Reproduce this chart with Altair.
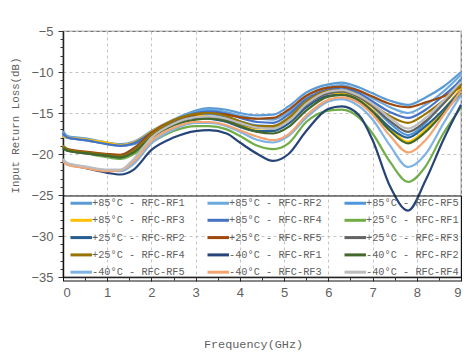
import altair as alt
import pandas as pd

freq = [0, 0.1, 0.5, 1, 1.3, 1.6, 2, 2.5, 3, 3.3, 3.7, 4, 4.4, 4.75, 5.1, 5.5, 6, 6.3, 6.7, 7, 7.4, 7.8, 8.2, 8.6, 9]

series_names = [
    "+85°C - RFC-RF1", "+85°C - RFC-RF2", "+85°C - RFC-RF5",
    "+85°C - RFC-RF3", "+85°C - RFC-RF4", "+25°C - RFC-RF1",
    "+25°C - RFC-RF2", "+25°C - RFC-RF5", "+25°C - RFC-RF3",
    "+25°C - RFC-RF4", "-40°C - RFC-RF1", "-40°C - RFC-RF2",
    "-40°C - RFC-RF5", "-40°C - RFC-RF3", "-40°C - RFC-RF4",
]

colors = [
    "#5B9BD5", "#6AA8DE", "#4F97DD",
    "#FFC000", "#4472C4", "#70AD47",
    "#255E91", "#9E480E", "#636363",
    "#997300", "#264478", "#43682B",
    "#7FB3E3", "#F4A471", "#BDBDBD",
]

p85_rf1 = [-17.2, -17.8, -18.1, -18.6, -18.8, -18.5, -17.2, -15.8, -14.7, -14.4, -14.6, -15.0, -15.3, -15.2, -14.2, -12.5, -11.5, -11.3, -11.9, -12.6, -13.5, -14.0, -13.1, -11.8, -10.0]
p85_rf2 = [-17.4, -17.9, -18.2, -18.7, -18.9, -18.6, -17.3, -15.9, -14.9, -14.6, -14.9, -15.3, -15.7, -15.8, -14.9, -13.0, -11.8, -11.6, -12.3, -13.2, -14.3, -15.0, -14.0, -12.4, -10.3]
p85_rf5 = [-17.6, -18.0, -18.3, -18.8, -19.0, -18.8, -17.6, -16.2, -15.3, -15.1, -15.5, -16.0, -16.5, -16.6, -15.6, -13.6, -12.3, -12.2, -13.0, -14.2, -16.3, -17.7, -16.2, -13.6, -10.8]
p85_rf3 = [-17.9, -18.0, -18.2, -18.6, -18.9, -18.6, -17.3, -15.9, -15.3, -15.4, -15.9, -16.4, -16.9, -16.8, -15.6, -13.7, -12.6, -12.6, -13.4, -14.6, -16.9, -18.5, -17.0, -14.6, -12.0]
p85_rf4 = [-17.5, -18.0, -18.3, -18.8, -19.0, -18.7, -17.4, -16.0, -15.0, -14.8, -15.1, -15.6, -16.1, -16.2, -15.2, -13.3, -12.1, -11.9, -12.6, -13.6, -14.9, -15.6, -14.6, -12.9, -11.0]
p25_rf1 = [-19.0, -19.4, -19.9, -20.4, -20.6, -20.0, -18.6, -17.2, -16.6, -16.6, -17.0, -17.8, -19.0, -19.4, -18.7, -16.1, -14.7, -14.6, -15.6, -17.5, -21.0, -23.4, -21.5, -17.5, -14.3]
p25_rf2 = [-19.2, -19.6, -19.9, -20.2, -20.4, -19.7, -17.8, -16.3, -15.6, -15.7, -16.1, -16.7, -17.2, -17.2, -16.3, -14.3, -12.9, -12.8, -13.5, -14.8, -16.8, -18.0, -16.6, -14.6, -12.3]
p25_rf5 = [-19.1, -19.4, -19.7, -20.0, -20.1, -19.3, -17.4, -15.9, -15.2, -15.0, -15.2, -15.5, -15.7, -15.6, -14.6, -12.9, -11.9, -11.8, -12.3, -13.0, -13.9, -14.3, -13.7, -13.0, -11.8]
p25_rf3 = [-19.2, -19.5, -19.9, -20.2, -20.3, -19.5, -17.6, -16.2, -15.5, -15.5, -15.8, -16.3, -16.8, -16.9, -16.0, -14.0, -12.6, -12.4, -13.1, -14.2, -16.0, -17.3, -16.0, -13.9, -11.5]
p25_rf4 = [-19.0, -19.5, -19.8, -20.1, -20.3, -19.6, -17.6, -15.9, -15.1, -15.0, -15.4, -16.0, -16.6, -16.6, -15.6, -13.6, -12.3, -12.2, -12.9, -14.0, -15.4, -16.2, -15.1, -13.5, -11.6]
m40_rf1 = [-20.8, -21.2, -21.7, -22.3, -22.5, -21.9, -19.5, -18.0, -17.2, -17.1, -17.5, -18.6, -20.0, -20.85, -20.0, -17.2, -14.5, -14.2, -15.3, -18.3, -24.0, -26.9, -23.2, -18.3, -14.0]
m40_rf2 = [-19.3, -19.6, -19.9, -20.2, -20.4, -19.8, -18.0, -16.5, -15.8, -15.7, -16.0, -16.6, -17.3, -17.5, -16.7, -14.7, -13.0, -12.8, -13.5, -14.9, -17.2, -18.7, -17.3, -15.0, -12.5]
m40_rf5 = [-20.8, -21.3, -21.6, -22.0, -22.1, -21.2, -18.7, -17.0, -16.2, -16.2, -16.6, -17.3, -18.3, -18.6, -17.8, -15.6, -13.6, -13.3, -14.2, -15.8, -19.0, -21.6, -20.0, -16.3, -12.8]
m40_rf3 = [-20.9, -21.3, -21.7, -22.1, -22.0, -20.9, -18.4, -16.8, -16.1, -16.1, -16.5, -17.1, -17.9, -18.3, -17.6, -15.3, -13.4, -13.1, -13.8, -15.2, -17.8, -19.8, -18.3, -15.3, -12.3]
m40_rf4 = [-20.6, -21.1, -21.5, -21.9, -21.9, -20.6, -18.0, -16.3, -15.5, -15.4, -15.7, -16.2, -16.8, -16.9, -16.0, -13.9, -12.4, -12.2, -12.9, -13.9, -15.6, -16.9, -15.6, -13.5, -11.2]

series_values = [
    p85_rf1, p85_rf2, p85_rf5, p85_rf3, p85_rf4, p25_rf1,
    p25_rf2, p25_rf5, p25_rf3, p25_rf4, m40_rf1, m40_rf2,
    m40_rf5, m40_rf3, m40_rf4,
]

rows = []
for name, vals in zip(series_names, series_values):
    for f, v in zip(freq, vals):
        rows.append({"freq": f, "loss": v, "series": name})
df = pd.DataFrame(rows)

x_scale = alt.Scale(domain=[0, 9], nice=False, zero=False)
y_scale = alt.Scale(domain=[-35, -5], nice=False, zero=False)

tick_font = "Liberation Sans"
label_color = "#5f5f5f"

lines = alt.Chart(df).mark_line(strokeWidth=2.2, interpolate="monotone").encode(
    x=alt.X("freq:Q", scale=x_scale,
            axis=alt.Axis(title="Frequency(GHz)", values=list(range(0, 10)),
                          grid=True, gridDash=[3, 3], gridColor="#c4c4c4",
                          domainColor="#222", domainWidth=1.5,
                          tickColor="#333", tickSize=4, labelPadding=5,
                          labelFont=tick_font, labelFontSize=13, labelColor=label_color,
                          titleFont="Liberation Mono", titleFontSize=11.8,
                          titleFontWeight="normal", titleColor=label_color,
                          titleX=190, titleY=66, titleBaseline="middle")),
    y=alt.Y("loss:Q", scale=y_scale,
            axis=alt.Axis(title="Input Return Loss(dB)", values=list(range(-35, 0, 5)),
                          grid=True, gridDash=[3, 3], gridColor="#c4c4c4",
                          domainColor="#222", domainWidth=1.5,
                          tickColor="#333", tickSize=5, labelPadding=5,
                          labelFont=tick_font, labelFontSize=13, labelColor=label_color,
                          titleFont="Liberation Mono", titleFontSize=10.8,
                          titleFontWeight="normal", titleColor=label_color,
                          titleX=-48, titleY=94, titleAngle=270, titleBaseline="middle")),
    color=alt.Color("series:N",
                    scale=alt.Scale(domain=series_names, range=colors),
                    sort=series_names,
                    legend=alt.Legend(title=None, orient="none", legendX=0, legendY=164.5,
                                      direction="horizontal", columns=3,
                                      symbolType="M0,0H5.6", symbolSize=58.8,
                                      symbolStrokeWidth=3, labelFont="Liberation Mono",
                                      labelFontSize=10.3, labelColor=label_color,
                                      labelOffset=16, labelLimit=0,
                                      strokeColor="#111", padding=2,
                                      columnPadding=16, rowPadding=4.3)),
    detail="series:N",
)

minor = alt.Chart(df).mark_point(opacity=0).encode(
    x=alt.X("freq:Q", scale=x_scale,
            axis=alt.Axis(orient="bottom", title=None, values=[v / 2 for v in range(0, 19)],
                          labels=False, grid=False, domain=False,
                          tickColor="#333", tickSize=3)),
    y=alt.Y("loss:Q", scale=y_scale,
            axis=alt.Axis(orient="left", title=None, values=list(range(-35, -4)),
                          labels=False, grid=False, domain=False,
                          tickColor="#333", tickSize=3)),
)

chart = alt.layer(lines, minor).resolve_axis(
    x="independent", y="independent"
).properties(
    width=398, height=246,
    autosize=alt.AutoSizeParams(type="none"),
    padding={"left": 63, "top": 31, "right": 5, "bottom": 76},
).configure_view(stroke="#707070", strokeWidth=1.2)

chart.save("out.html", embed_options={"renderer": "svg", "actions": False})
